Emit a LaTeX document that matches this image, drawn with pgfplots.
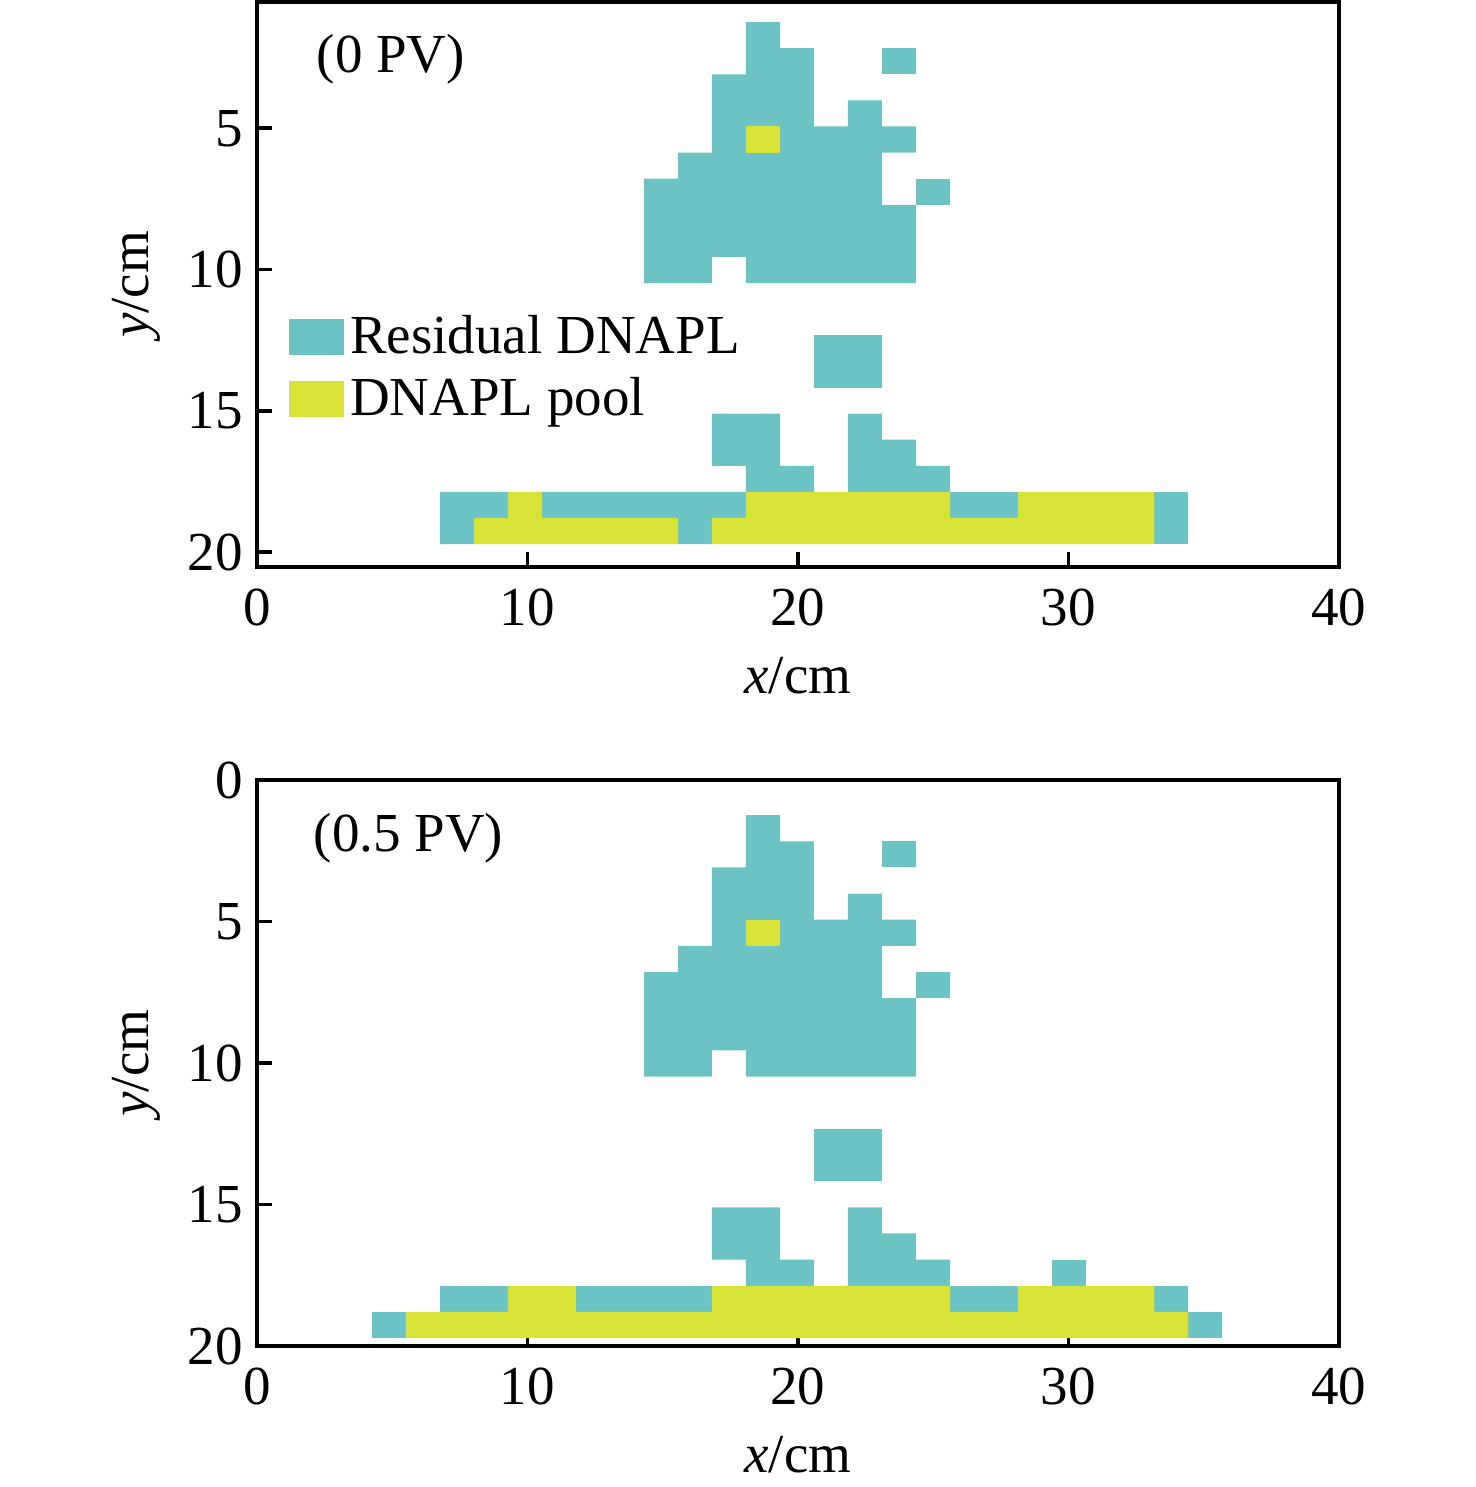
\documentclass[border=0pt]{standalone}
\usepackage{fontspec}
\setmainfont{Liberation Serif}
\usepackage{pgfplots}
\pgfplotsset{compat=1.18}
\definecolor{resid}{RGB}{108,195,196}
\definecolor{pool}{RGB}{217,226,55}
\newcommand{\fs}{\fontsize{13.75}{16}\selectfont}
\pgfplotsset{
  panel/.style={
    scale only axis, width=270.5pt,
    xmin=0, xmax=40, y dir=reverse,
    xtick={0,10,20,30,40},
    tick align=inside, major tick length=3.75pt,
    xtick pos=left, ytick pos=left,
    axis line style={line width=0.9pt},
    every tick/.style={black, line width=0.9pt},
    tick label style={font=\fs},
    xticklabel style={yshift=-2pt},
    label style={font=\fs},
    xlabel style={yshift=-1pt},
    /pgf/number format/assume math mode=true,
    xlabel={\textit{x}/cm}, ylabel={\textit{y}/cm},
    legend image code/.code={\fill[##1] (0pt,-4.5pt) rectangle (13.75pt,4.5pt);},
  },
  cell/.style={draw=none, fill=#1},
}
\begin{document}
\begin{tikzpicture}
\path[use as bounding box] (-64.25pt,-230pt) rectangle (304.75pt,141.75pt);
% ---------------- top panel (0 PV)
\begin{axis}[panel, height=141.25pt, at={(0pt,0pt)}, anchor=south west,
  ymin=0.53, ymax=20.53, ytick={5,10,15,20},
  legend style={at={(0.029,0.458)}, anchor=north west, draw=none, fill=none,
    font=\fs, inner sep=0pt, row sep=1.5pt, nodes={inner sep=1.5pt}},
  legend cell align=left]
\addplot[cell=resid] coordinates {(18.077,1.240) (19.334,1.240) (19.334,2.164) (20.591,2.164) (20.591,4.936) (21.848,4.936) (21.848,4.012) (23.105,4.012) (23.105,4.936) (24.362,4.936) (24.362,5.860) (23.105,5.860) (23.105,7.708) (24.362,7.708) (24.362,10.480) (18.077,10.480) (18.077,9.556) (16.820,9.556) (16.820,10.480) (14.306,10.480) (14.306,6.784) (15.563,6.784) (15.563,5.860) (16.820,5.860) (16.820,3.088) (18.077,3.088)} --cycle;
\addlegendentry{Residual DNAPL}
\addplot[cell=pool] coordinates {(18.077,4.936) (19.334,4.936) (19.334,5.860) (18.077,5.860)} --cycle;
\addlegendentry{DNAPL pool}
\addplot[cell=resid, forget plot] coordinates {(23.105,2.164) (24.362,2.164) (24.362,3.088) (23.105,3.088)} --cycle;
\addplot[cell=resid, forget plot] coordinates {(24.362,6.784) (25.619,6.784) (25.619,7.708) (24.362,7.708)} --cycle;
\addplot[cell=resid, forget plot] coordinates {(20.591,12.328) (23.105,12.328) (23.105,14.176) (20.591,14.176)} --cycle;
\addplot[cell=resid, forget plot] coordinates {(16.820,15.100) (19.334,15.100) (19.334,16.948) (20.591,16.948) (20.591,17.872) (18.077,17.872) (18.077,16.948) (16.820,16.948)} --cycle;
\addplot[cell=resid, forget plot] coordinates {(21.848,15.100) (23.105,15.100) (23.105,16.024) (24.362,16.024) (24.362,16.948) (25.619,16.948) (25.619,17.872) (21.848,17.872)} --cycle;
\addplot[cell=resid, forget plot] coordinates {(6.764,17.872) (9.278,17.872) (9.278,18.796) (8.021,18.796) (8.021,19.720) (6.764,19.720)} --cycle;
\addplot[cell=resid, forget plot] coordinates {(10.535,17.872) (18.077,17.872) (18.077,18.796) (16.820,18.796) (16.820,19.720) (15.563,19.720) (15.563,18.796) (10.535,18.796)} --cycle;
\addplot[cell=resid, forget plot] coordinates {(25.619,17.872) (28.133,17.872) (28.133,18.796) (25.619,18.796)} --cycle;
\addplot[cell=resid, forget plot] coordinates {(33.161,17.872) (34.418,17.872) (34.418,19.720) (33.161,19.720)} --cycle;
\addplot[cell=pool, forget plot] coordinates {(9.278,17.872) (10.535,17.872) (10.535,18.796) (15.563,18.796) (15.563,19.720) (8.021,19.720) (8.021,18.796) (9.278,18.796)} --cycle;
\addplot[cell=pool, forget plot] coordinates {(18.077,17.872) (25.619,17.872) (25.619,18.796) (28.133,18.796) (28.133,17.872) (33.161,17.872) (33.161,19.720) (16.820,19.720) (16.820,18.796) (18.077,18.796)} --cycle;
\node[anchor=west, font=\fs, inner sep=0pt] at (axis cs:2.18,2.55) {(0 PV)};
\end{axis}
% ---------------- bottom panel (0.5 PV)
\begin{axis}[panel, height=141.5pt, at={(0pt,-194.75pt)}, anchor=south west,
  ymin=0, ymax=20, ytick={0,5,10,15,20}]
\addplot[cell=resid] coordinates {(18.077,1.240) (19.334,1.240) (19.334,2.164) (20.591,2.164) (20.591,4.936) (21.848,4.936) (21.848,4.012) (23.105,4.012) (23.105,4.936) (24.362,4.936) (24.362,5.860) (23.105,5.860) (23.105,7.708) (24.362,7.708) (24.362,10.480) (18.077,10.480) (18.077,9.556) (16.820,9.556) (16.820,10.480) (14.306,10.480) (14.306,6.784) (15.563,6.784) (15.563,5.860) (16.820,5.860) (16.820,3.088) (18.077,3.088)} --cycle;
\addplot[cell=pool] coordinates {(18.077,4.936) (19.334,4.936) (19.334,5.860) (18.077,5.860)} --cycle;
\addplot[cell=resid] coordinates {(23.105,2.164) (24.362,2.164) (24.362,3.088) (23.105,3.088)} --cycle;
\addplot[cell=resid] coordinates {(24.362,6.784) (25.619,6.784) (25.619,7.708) (24.362,7.708)} --cycle;
\addplot[cell=resid] coordinates {(20.591,12.328) (23.105,12.328) (23.105,14.176) (20.591,14.176)} --cycle;
\addplot[cell=resid] coordinates {(16.820,15.100) (19.334,15.100) (19.334,16.948) (20.591,16.948) (20.591,17.872) (18.077,17.872) (18.077,16.948) (16.820,16.948)} --cycle;
\addplot[cell=resid] coordinates {(21.848,15.100) (23.105,15.100) (23.105,16.024) (24.362,16.024) (24.362,16.948) (25.619,16.948) (25.619,17.872) (21.848,17.872)} --cycle;
\addplot[cell=resid] coordinates {(29.390,16.948) (30.647,16.948) (30.647,17.872) (29.390,17.872)} --cycle;
\addplot[cell=resid] coordinates {(6.764,17.872) (9.278,17.872) (9.278,18.796) (6.764,18.796)} --cycle;
\addplot[cell=resid] coordinates {(11.792,17.872) (16.820,17.872) (16.820,18.796) (11.792,18.796)} --cycle;
\addplot[cell=resid] coordinates {(25.619,17.872) (28.133,17.872) (28.133,18.796) (25.619,18.796)} --cycle;
\addplot[cell=resid] coordinates {(33.161,17.872) (34.418,17.872) (34.418,18.796) (33.161,18.796)} --cycle;
\addplot[cell=resid] coordinates {(4.250,18.796) (5.507,18.796) (5.507,19.720) (4.250,19.720)} --cycle;
\addplot[cell=resid] coordinates {(34.418,18.796) (35.675,18.796) (35.675,19.720) (34.418,19.720)} --cycle;
\addplot[cell=pool] coordinates {(5.507,18.796) (9.278,18.796) (9.278,17.872) (11.792,17.872) (11.792,18.796) (16.820,18.796) (16.820,17.872) (25.619,17.872) (25.619,18.796) (28.133,18.796) (28.133,17.872) (33.161,17.872) (33.161,18.796) (34.418,18.796) (34.418,19.720) (5.507,19.720)} --cycle;
\node[anchor=west, font=\fs, inner sep=0pt] at (axis cs:2.07,2.05) {(0.5 PV)};
\end{axis}
\end{tikzpicture}
\end{document}
